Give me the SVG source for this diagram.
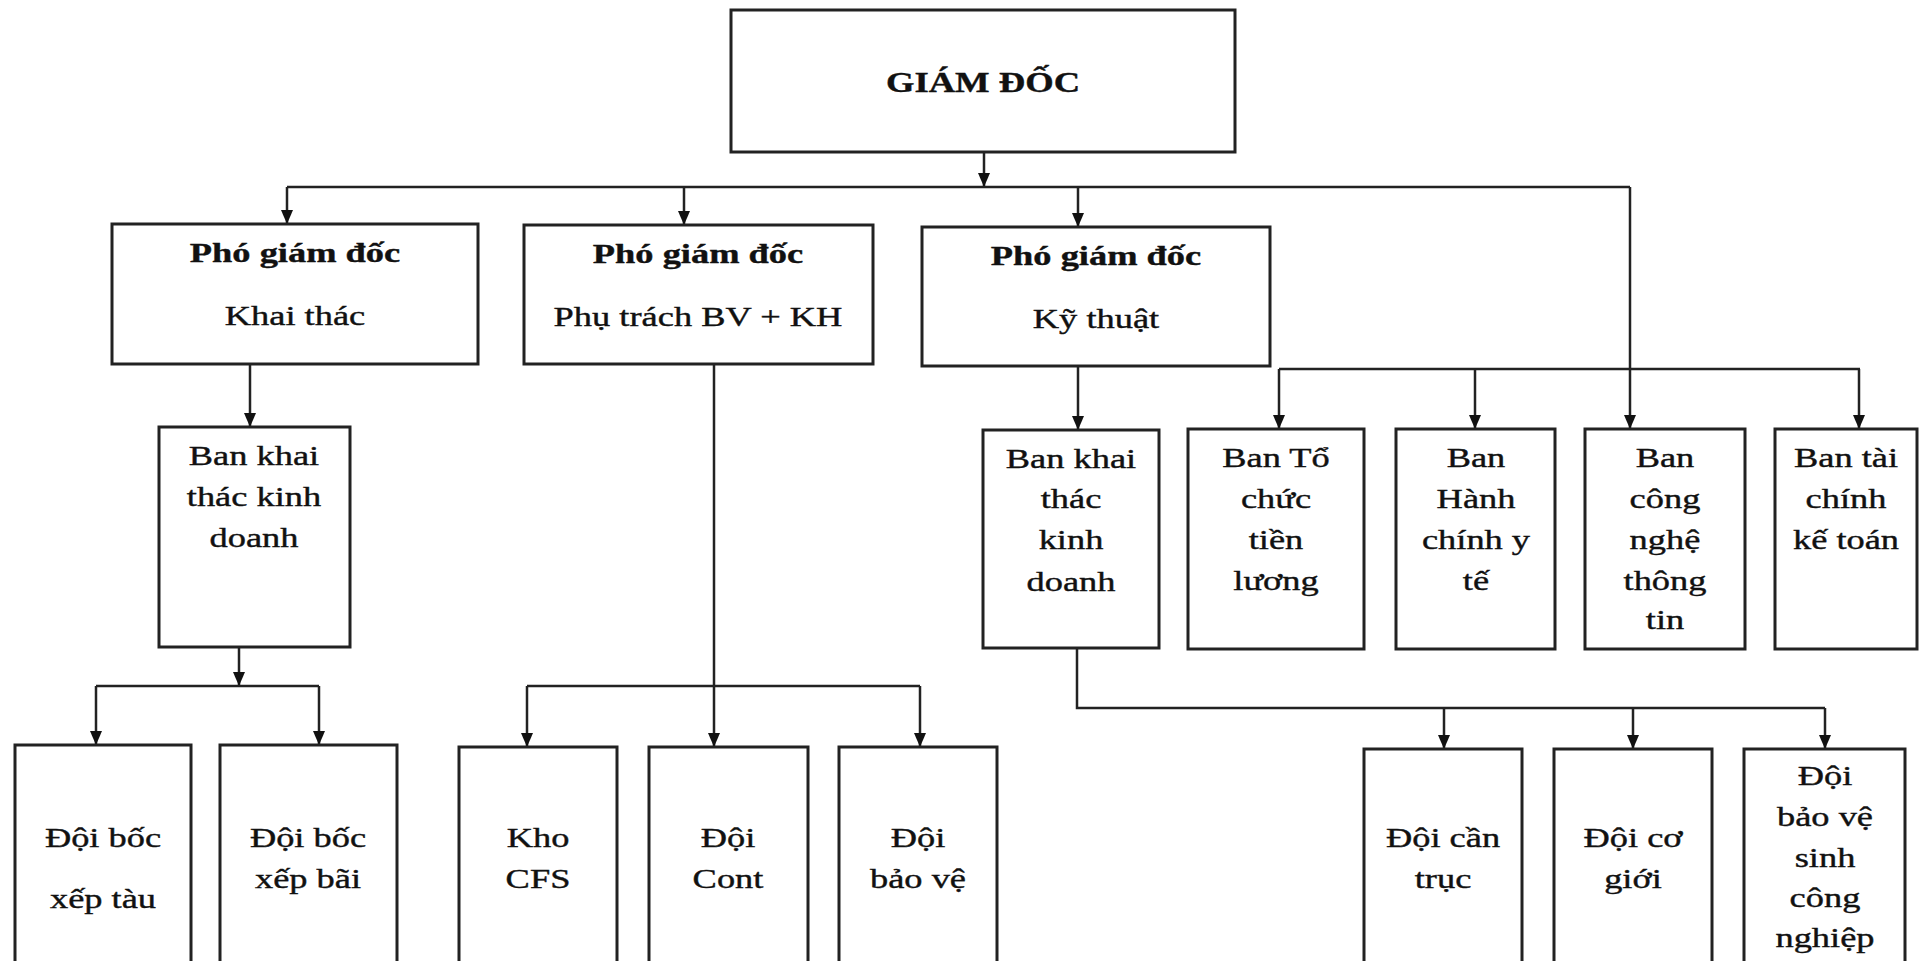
<svg xmlns="http://www.w3.org/2000/svg" width="1921" height="961" viewBox="0 0 1921 961">
<style>
.box{fill:#fff;stroke:#222;stroke-width:3}
.ln{fill:none;stroke:#222;stroke-width:2.5}
.ar{marker-end:url(#ah)}
text{font-family:"Liberation Serif","Times New Roman",serif;font-size:28px;fill:#111;stroke:#111;stroke-width:0.4;text-anchor:middle}
.b{font-weight:bold}
.t{font-size:30px;font-weight:bold}
</style>
<defs>
<marker id="ah" viewBox="0 0 14 12" refX="14" refY="6" markerWidth="14" markerHeight="12" markerUnits="userSpaceOnUse" orient="auto">
<path d="M0,0 L14,6 L0,12 z" fill="#111"/>
</marker>
</defs>
<rect width="1921" height="961" fill="#fff"/>
<g id="connectors">
<path class="ln ar" d="M984,152 V187"/>
<path class="ln" d="M287,187 H1630"/>
<path class="ln ar" d="M287,187 V224"/>
<path class="ln ar" d="M684,187 V225"/>
<path class="ln ar" d="M1078,187 V227"/>
<path class="ln ar" d="M1630,187 V429"/>
<path class="ln ar" d="M250,364 V427"/>
<path class="ln ar" d="M239,647 V686"/>
<path class="ln" d="M96,686 H319"/>
<path class="ln ar" d="M96,686 V745"/>
<path class="ln ar" d="M319,686 V745"/>
<path class="ln ar" d="M714,364 V747"/>
<path class="ln" d="M527,686 H920"/>
<path class="ln ar" d="M527,686 V747"/>
<path class="ln ar" d="M920,686 V747"/>
<path class="ln ar" d="M1078,366 V430"/>
<path class="ln" d="M1279,369 H1860"/>
<path class="ln ar" d="M1279,369 V429"/>
<path class="ln ar" d="M1475,369 V429"/>
<path class="ln ar" d="M1859,369 V429"/>
<path class="ln" d="M1077,648 V708 H1825"/>
<path class="ln ar" d="M1444,708 V749"/>
<path class="ln ar" d="M1633,708 V749"/>
<path class="ln ar" d="M1825,708 V749"/>
</g>
<g id="giam-doc">
<rect class="box" x="731" y="10" width="504" height="142"/>
<text class="t" transform="matrix(1.22 0 0 1 983 0)" x="0" y="92">GIÁM ĐỐC</text>
</g>
<g id="pgd-khai-thac">
<rect class="box" x="112" y="224" width="366" height="140"/>
<text transform="matrix(1.3 0 0 1 295 0)"><tspan class="b" x="0" y="262">Phó giám đốc</tspan><tspan x="0" y="325">Khai thác</tspan></text>
</g>
<g id="pgd-bv-kh">
<rect class="box" x="524" y="225" width="349" height="139"/>
<text transform="matrix(1.3 0 0 1 698 0)"><tspan class="b" x="0" y="263">Phó giám đốc</tspan><tspan x="0" y="326">Phụ trách BV + KH</tspan></text>
</g>
<g id="pgd-ky-thuat">
<rect class="box" x="922" y="227" width="348" height="139"/>
<text transform="matrix(1.3 0 0 1 1096 0)"><tspan class="b" x="0" y="265">Phó giám đốc</tspan><tspan x="0" y="328">Kỹ thuật</tspan></text>
</g>
<g id="ban-khai-thac-1">
<rect class="box" x="159" y="427" width="191" height="220"/>
<text transform="matrix(1.3 0 0 1 254 0)"><tspan x="0" y="465">Ban khai</tspan><tspan x="0" y="506">thác kinh</tspan><tspan x="0" y="547">doanh</tspan></text>
</g>
<g id="doi-boc-xep-tau">
<rect class="box" x="15" y="745" width="176" height="230"/>
<text transform="matrix(1.3 0 0 1 103 0)"><tspan x="0" y="847">Đội bốc</tspan><tspan x="0" y="908">xếp tàu</tspan></text>
</g>
<g id="doi-boc-xep-bai">
<rect class="box" x="220" y="745" width="177" height="230"/>
<text transform="matrix(1.3 0 0 1 308 0)"><tspan x="0" y="847">Đội bốc</tspan><tspan x="0" y="888">xếp bãi</tspan></text>
</g>
<g id="kho-cfs">
<rect class="box" x="459" y="747" width="158" height="230"/>
<text transform="matrix(1.3 0 0 1 538 0)"><tspan x="0" y="847">Kho</tspan><tspan x="0" y="888">CFS</tspan></text>
</g>
<g id="doi-cont">
<rect class="box" x="649" y="747" width="159" height="230"/>
<text transform="matrix(1.3 0 0 1 728 0)"><tspan x="0" y="847">Đội</tspan><tspan x="0" y="888">Cont</tspan></text>
</g>
<g id="doi-bao-ve">
<rect class="box" x="839" y="747" width="158" height="230"/>
<text transform="matrix(1.3 0 0 1 918 0)"><tspan x="0" y="847">Đội</tspan><tspan x="0" y="888">bảo vệ</tspan></text>
</g>
<g id="ban-khai-thac-2">
<rect class="box" x="983" y="430" width="176" height="218"/>
<text transform="matrix(1.3 0 0 1 1071 0)"><tspan x="0" y="468">Ban khai</tspan><tspan x="0" y="508">thác</tspan><tspan x="0" y="549">kinh</tspan><tspan x="0" y="591">doanh</tspan></text>
</g>
<g id="ban-to-chuc">
<rect class="box" x="1188" y="429" width="176" height="220"/>
<text transform="matrix(1.3 0 0 1 1276 0)"><tspan x="0" y="467">Ban Tổ</tspan><tspan x="0" y="508">chức</tspan><tspan x="0" y="549">tiền</tspan><tspan x="0" y="590">lương</tspan></text>
</g>
<g id="ban-hanh-chinh">
<rect class="box" x="1396" y="429" width="159" height="220"/>
<text transform="matrix(1.3 0 0 1 1476 0)"><tspan x="0" y="467">Ban</tspan><tspan x="0" y="508">Hành</tspan><tspan x="0" y="549">chính y</tspan><tspan x="0" y="590">tế</tspan></text>
</g>
<g id="ban-cntt">
<rect class="box" x="1585" y="429" width="160" height="220"/>
<text transform="matrix(1.3 0 0 1 1665 0)"><tspan x="0" y="467">Ban</tspan><tspan x="0" y="508">công</tspan><tspan x="0" y="549">nghệ</tspan><tspan x="0" y="590">thông</tspan><tspan x="0" y="629">tin</tspan></text>
</g>
<g id="ban-tai-chinh">
<rect class="box" x="1775" y="429" width="142" height="220"/>
<text transform="matrix(1.3 0 0 1 1846 0)"><tspan x="0" y="467">Ban tài</tspan><tspan x="0" y="508">chính</tspan><tspan x="0" y="549">kế toán</tspan></text>
</g>
<g id="doi-can-truc">
<rect class="box" x="1364" y="749" width="158" height="230"/>
<text transform="matrix(1.3 0 0 1 1443 0)"><tspan x="0" y="847">Đội cần</tspan><tspan x="0" y="888">trục</tspan></text>
</g>
<g id="doi-co-gioi">
<rect class="box" x="1554" y="749" width="158" height="230"/>
<text transform="matrix(1.3 0 0 1 1633 0)"><tspan x="0" y="847">Đội cơ</tspan><tspan x="0" y="888">giới</tspan></text>
</g>
<g id="doi-bao-ve-sinh">
<rect class="box" x="1744" y="749" width="161" height="230"/>
<text transform="matrix(1.3 0 0 1 1825 0)"><tspan x="0" y="785">Đội</tspan><tspan x="0" y="826">bảo vệ</tspan><tspan x="0" y="867">sinh</tspan><tspan x="0" y="907">công</tspan><tspan x="0" y="947">nghiệp</tspan></text>
</g>
</svg>
